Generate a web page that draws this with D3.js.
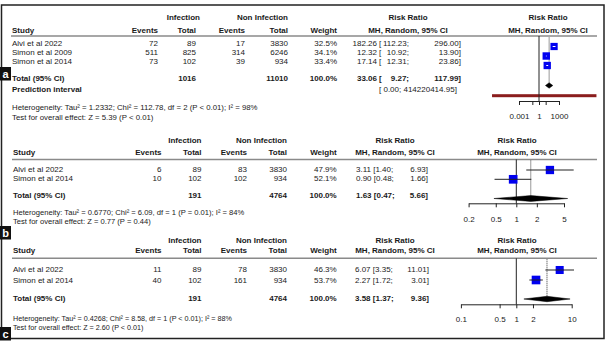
<!DOCTYPE html>
<html><head><meta charset="utf-8">
<script src="https://cdn.jsdelivr.net/npm/d3@7"></script>
<style>body{margin:0;background:#fff}svg{display:block}text{font-family:"Liberation Sans",Arial,Helvetica,sans-serif;fill:#1a1a1a}</style>
</head><body><svg id="chart" width="606" height="341"></svg>
<script>
// ---------- Panel a data ----------
const studiesA = ["Alvi et al 2022", "Simon et al 2009", "Simon et al 2014"];
const infEventsA = [72, 511, 73];
const infTotalA = [89, 825, 102];
const nonEventsA = [17, 314, 39];
const nonTotalA = [3830, 6246, 934];
const weightA = [32.5, 34.1, 33.4];
const rrA = [182.26, 12.32, 17.14];
const lowerA = [112.23, 10.92, 12.31];
const upperA = [296.00, 13.90, 23.86];
const totalsA = [1016, 11010];
const pooledA = [33.06, 9.27, 117.99];
const predictionA = [9e-8, 414220414.95];
const predictionLabelsA = ["0.00", "414220414.95"];
const hetA = "Heterogeneity: Tau² = 1.2332; Chi² = 112.78, df = 2 (P < 0.01); I² = 98%";
const testA = "Test for overall effect: Z = 5.39 (P < 0.01)";
const ticksA = [0.001, 0.1, 1, 10, 1000];
const tickLabelsA = ["0.001", "", "1", "", "1000"];

// ---------- Panel b data ----------
const studiesB = ["Alvi et al 2022", "Simon et al 2014"];
const infEventsB = [6, 10];
const infTotalB = [89, 102];
const nonEventsB = [83, 102];
const nonTotalB = [3830, 934];
const weightB = [47.9, 52.1];
const rrB = [3.11, 0.90];
const lowerB = [1.40, 0.48];
const upperB = [6.93, 1.66];
const totalsB = [191, 4764];
const pooledB = [1.63, 0.47, 5.66];
const hetB = "Heterogeneity: Tau² = 0.6770; Chi² = 6.09, df = 1 (P = 0.01); I² = 84%";
const testB = "Test for overall effect: Z = 0.77 (P = 0.44)";
const ticksB = [0.2, 0.5, 1, 2, 5];
const tickLabelsB = ["0.2", "0.5", "1", "2", "5"];

// ---------- Panel c data ----------
const studiesC = ["Alvi et al 2022", "Simon et al 2014"];
const infEventsC = [11, 40];
const infTotalC = [89, 102];
const nonEventsC = [78, 161];
const nonTotalC = [3830, 934];
const weightC = [46.3, 53.7];
const rrC = [6.07, 2.27];
const lowerC = [3.35, 1.72];
const upperC = [11.01, 3.01];
const totalsC = [191, 4764];
const pooledC = [3.58, 1.37, 9.36];
const hetC = "Heterogeneity: Tau² = 0.4268; Chi² = 8.58, df = 1 (P < 0.01); I² = 88%";
const testC = "Test for overall effect: Z = 2.60 (P < 0.01)";
const ticksC = [0.1, 0.5, 1, 2, 10];
const tickLabelsC = ["0.1", "0.5", "1", "2", "10"];

const panelLabels = ["a", "b", "c"];

const svg = d3.select("#chart");
const FS = 8;
const TXT = "#1a1a1a";

// outer frame
svg.append("rect").attr("x", 1.5).attr("y", 5).attr("width", 602.5).attr("height", 333.5)
  .attr("fill", "none").attr("stroke", "#222").attr("stroke-width", 1.5);

function txt(g, x, y, s, anchor, bold, size) {
  return g.append("text").attr("x", x).attr("y", y).attr("dy", "0.35em")
    .attr("text-anchor", anchor || "start")
    .attr("font-size", size || FS)
    .attr("font-weight", bold ? "bold" : "normal")
    .text(s);
}

function drawPanel(d, L) {
  const g = svg.append("g");
  // headers
  txt(g, L.infR, L.h1, "Infection", "end", true);
  txt(g, L.nonR, L.h1, "Non Infection", "end", true);
  txt(g, L.rrC, L.h1, "Risk Ratio", "middle", true);
  txt(g, L.plotC, L.h1, "Risk Ratio", "middle", true);
  txt(g, L.studyX, L.h2, "Study", "start", true);
  txt(g, L.ev1R, L.h2, "Events", "end", true);
  txt(g, L.tot1R, L.h2, "Total", "end", true);
  txt(g, L.ev2R, L.h2, "Events", "end", true);
  txt(g, L.tot2R, L.h2, "Total", "end", true);
  txt(g, L.wR, L.h2, "Weight", "end", true);
  txt(g, L.rrC, L.h2, "MH, Random, 95% CI", "middle", true);
  txt(g, L.plotC, L.h2, "MH, Random, 95% CI", "middle", true);
  g.append("line").attr("x1", L.studyX - 1).attr("x2", 597).attr("y1", L.line).attr("y2", L.line)
    .attr("stroke", "#8a8a8a").attr("stroke-width", 1.5);

  const y = d3.scalePoint().domain(d.studies).range([L.row0, L.rowN]);
  const yp = d3.scalePoint().domain(d.studies).range([L.sq0, L.sqN]);
  const x = d3.scaleLog().domain([d.ticks[0], d.ticks[d.ticks.length - 1]]).range([L.x0, L.x1]);

  d.studies.forEach((s, i) => {
    const yy = y(s);
    txt(g, L.studyX, yy, s);
    txt(g, L.ev1R, yy, d.infEvents[i], "end");
    txt(g, L.tot1R, yy, d.infTotal[i], "end");
    txt(g, L.ev2R, yy, d.nonEvents[i], "end");
    txt(g, L.tot2R, yy, d.nonTotal[i], "end");
    txt(g, L.wR, yy, d.weight[i].toFixed(1) + "%", "end");
    rrText(g, L, yy, d.rr[i], d.lower[i], d.upper[i], false);
  });
  // total row
  txt(g, L.studyX, L.totY, "Total (95% CI)", "start", true);
  txt(g, L.tot1R, L.totY, d.totals[0], "end", true);
  txt(g, L.tot2R, L.totY, d.totals[1], "end", true);
  txt(g, L.wR, L.totY, "100.0%", "end", true);
  rrText(g, L, L.totY, d.pooled[0], d.pooled[1], d.pooled[2], true);

  if (d.prediction) {
    txt(g, L.studyX, L.piY, "Prediction interval", "start", true);
    txt(g, L.brL, L.piY, "[ " + d.predictionLabels[0] + "; " + d.predictionLabels[1] + "]", "start");
    g.append("rect").attr("x", x(d.prediction[0])).attr("y", L.piLineY - 1.5)
      .attr("width", x(d.prediction[1]) - x(d.prediction[0])).attr("height", 3)
      .attr("fill", "#8b1d1d");
  }

  txt(g, L.hetX, L.hetY, d.het, "start", false, L.footFS);
  txt(g, L.hetX, L.testY, d.test, "start", false, L.footFS);

  // reference line at 1
  g.append("line").attr("x1", x(1)).attr("x2", x(1)).attr("y1", L.line).attr("y2", L.axisY)
    .attr("stroke", "#222").attr("stroke-width", 1);
  // summary dotted line
  g.append("line").attr("x1", x(d.pooled[0])).attr("x2", x(d.pooled[0]))
    .attr("y1", L.line + 1).attr("y2", L.diaY - 2)
    .attr("stroke", L.sumColor).attr("stroke-width", 1).attr("stroke-dasharray", L.sumDash);

  // study squares
  d.studies.forEach((s, i) => {
    const yy = yp(s);
    const side = L.sq * Math.sqrt(d.weight[i]);
    const xl = x(d.lower[i]), xu = x(d.upper[i]), xc = x(d.rr[i]);
    const inside = xl >= xc - side / 2 && xu <= xc + side / 2;
    if (!inside) {
      g.append("line").attr("x1", xl).attr("x2", xu).attr("y1", yy).attr("y2", yy)
        .attr("stroke", "#222").attr("stroke-width", 1);
    }
    g.append("rect").attr("x", xc - side / 2).attr("y", yy - side / 2)
      .attr("width", side).attr("height", side).attr("fill", "#0000f0");
    g.append("line").attr("x1", Math.max(xl, xc - side / 2)).attr("x2", Math.min(xu, xc + side / 2))
      .attr("y1", yy).attr("y2", yy)
      .attr("stroke", inside ? "#fff" : "#222").attr("stroke-width", 1);
  });
  // diamond
  const dx0 = x(d.pooled[1]), dx1 = x(d.pooled[2]), dxc = x(d.pooled[0]);
  g.append("path").attr("d", `M${dx0},${L.diaY} L${dxc},${L.diaY - L.diaH} L${dx1},${L.diaY} L${dxc},${L.diaY + L.diaH} Z`)
    .attr("fill", "#000").attr("stroke", "#000").attr("stroke-width", 0.5);

  // axis
  const ax = g.append("g").attr("transform", `translate(0,${L.axisY})`)
    .call(d3.axisBottom(x).tickValues(d.ticks).tickFormat((v, i) => d.tickLabels[i])
      .tickSize(4).tickSizeOuter(0).tickPadding(L.tickPad));
  ax.selectAll("path,line").attr("stroke", "#222").attr("stroke-width", 1);
  ax.selectAll("text").attr("font-size", FS).attr("fill", TXT)
    .attr("font-family", "'Liberation Sans', Arial, sans-serif");
}

function rrText(g, L, yy, est, lo, up, bold) {
  if (L.mode === "a") {
    txt(g, L.estR, yy, est.toFixed(2), "end", bold);
    txt(g, L.brL, yy, "[", "start", bold);
    txt(g, L.lowR, yy, lo.toFixed(2) + ";", "end", bold);
    txt(g, L.upR, yy, up.toFixed(2) + "]", "end", bold);
  } else {
    txt(g, L.rrL, yy, est.toFixed(2) + " [" + lo.toFixed(2) + ";", "start", bold);
    txt(g, L.upR, yy, up.toFixed(2) + "]", "end", bold);
  }
}

const LA = {mode: "a", studyX: 12, hetX: 12, ev1R: 158, tot1R: 196, infR: 200, ev2R: 245, tot2R: 288, nonR: 288,
  wR: 337, rrC: 408, plotC: 548, h1: 17, h2: 30, line: 36, row0: 43.5, rowN: 61, totY: 78, piY: 89,
  sq0: 46.5, sqN: 65.5, diaY: 85.5, diaH: 2.7, piLineY: 95.7, hetY: 107, testY: 117, axisY: 101,
  x0: 519, x1: 559, estR: 377, brL: 379, lowR: 409, upR: 461, sq: 1.27, tickPad: 8,
  sumColor: "#999", sumDash: null, footFS: 7.8};
const LB = {mode: "b", studyX: 13, hetX: 13, ev1R: 161.5, tot1R: 201.5, infR: 201.5, ev2R: 247, tot2R: 287, nonR: 287,
  wR: 336.7, rrC: 395, plotC: 517, h1: 140, h2: 152, line: 159.5, row0: 169.5, rowN: 178.5, totY: 195.5,
  sq0: 170, sqN: 179.3, diaY: 198.5, diaH: 2.9, hetY: 212.5, testY: 221, axisY: 203.3,
  x0: 468.6, x1: 564, rrL: 356, upR: 428, sq: 1.2, tickPad: 9, sumColor: "#333", sumDash: "1,1", footFS: 7.6};
const LC = {mode: "c", studyX: 13, hetX: 13, ev1R: 161.5, tot1R: 201.5, infR: 201.5, ev2R: 247, tot2R: 287, nonR: 287,
  wR: 336.7, rrC: 395, plotC: 517, h1: 240.5, h2: 250.5, line: 258.3, row0: 269.5, rowN: 280, totY: 298.3,
  sq0: 270, sqN: 280, diaY: 299, diaH: 2.7, hetY: 318.5, testY: 327, axisY: 304.3,
  x0: 460.9, x1: 571.7, rrL: 355, upR: 429, sq: 1.18, tickPad: 8, sumColor: "#333", sumDash: "1,1", footFS: 7.2};

drawPanel({studies: studiesA, infEvents: infEventsA, infTotal: infTotalA, nonEvents: nonEventsA, nonTotal: nonTotalA,
  weight: weightA, rr: rrA, lower: lowerA, upper: upperA, totals: totalsA, pooled: pooledA,
  prediction: predictionA, predictionLabels: predictionLabelsA, het: hetA, test: testA,
  ticks: ticksA, tickLabels: tickLabelsA}, LA);
drawPanel({studies: studiesB, infEvents: infEventsB, infTotal: infTotalB, nonEvents: nonEventsB, nonTotal: nonTotalB,
  weight: weightB, rr: rrB, lower: lowerB, upper: upperB, totals: totalsB, pooled: pooledB,
  het: hetB, test: testB, ticks: ticksB, tickLabels: tickLabelsB}, LB);
drawPanel({studies: studiesC, infEvents: infEventsC, infTotal: infTotalC, nonEvents: nonEventsC, nonTotal: nonTotalC,
  weight: weightC, rr: rrC, lower: lowerC, upper: upperC, totals: totalsC, pooled: pooledC,
  het: hetC, test: testC, ticks: ticksC, tickLabels: tickLabelsC}, LC);

// panel letter boxes
const boxY = d3.scaleOrdinal().domain(panelLabels).range([67, 226, 327]);
panelLabels.forEach(l => {
  svg.append("rect").attr("x", 0).attr("y", boxY(l)).attr("width", 11).attr("height", 13.5).attr("fill", "#111");
  svg.append("text").attr("x", 5.5).attr("y", boxY(l) + 6.8).attr("dy", "0.35em").attr("text-anchor", "middle")
    .attr("font-size", 11).attr("font-weight", "bold").style("fill", "#fff").text(l);
});
</script></body></html>
